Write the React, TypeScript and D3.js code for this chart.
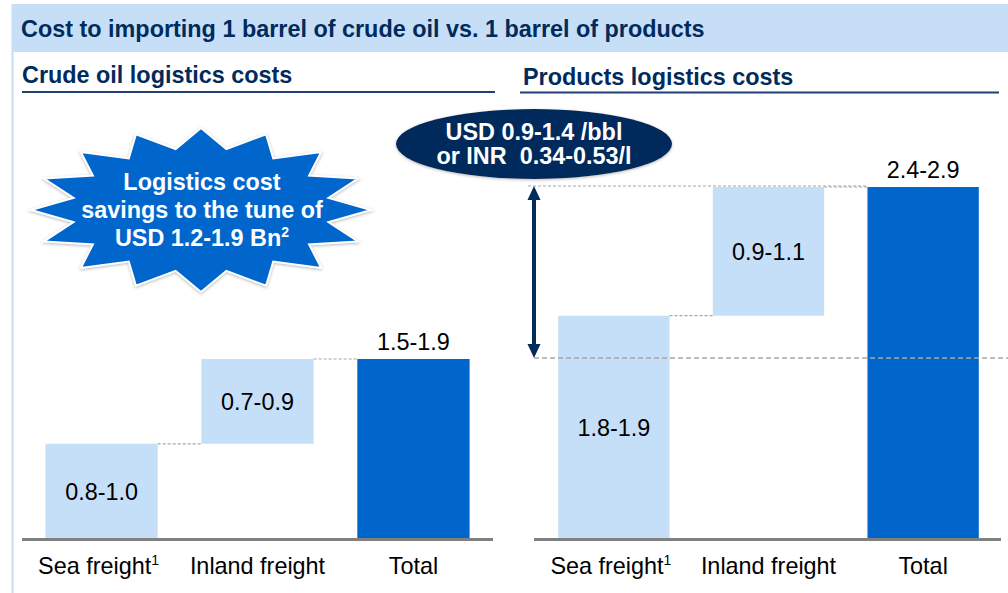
import * as d3 from "d3";

// categories and values (bar heights read as the upper end of each range)
const categories = ["Sea freight", "Inland freight", "Total"];
const categoryNotes = ["1", "", ""];
const crudeSteps = [1.0, 0.9];
const crudeLabels = ["0.8-1.0", "0.7-0.9", "1.5-1.9"];
const productSteps = [1.9, 1.1];
const productLabels = ["1.8-1.9", "0.9-1.1", "2.4-2.9"];
const burstLines = ["Logistics cost", "savings to the tune of", "USD 1.2-1.9 Bn"];
const bubbleLines = ["USD 0.9-1.4 /bbl", "or INR  0.34-0.53/l"];

const W = 1008;
const H = 593;
const AXIS_Y = 538;
const PLOT_TOP = 180;
const FONT = "'Liberation Sans', Arial, Helvetica, sans-serif";
const NAVY = "#002B5C";
const LIGHT = "#C6DFF8";
const DARK = "#0066CC";
const DASH = "#A6A6A6";
const BAND = "#C6DFF7";
const FS = 23.4;

type Bar = { y0: number; y1: number; total: boolean };

function waterfall(steps: number[]): Bar[] {
  let acc = 0;
  const bars: Bar[] = steps.map((v) => {
    const b = { y0: acc, y1: acc + v, total: false };
    acc += v;
    return b;
  });
  bars.push({ y0: 0, y1: acc, total: true });
  return bars;
}

function makePanel(x0: number, x1: number, yMax: number, steps: number[]) {
  const x = d3
    .scaleBand<string>()
    .domain(categories)
    .range([x0, x1])
    .paddingInner(0.28)
    .paddingOuter(0.15);
  const y = d3.scaleLinear().domain([0, yMax]).range([AXIS_Y, PLOT_TOP]);
  return { x, y, bars: waterfall(steps), x0, x1 };
}

function Panel({ p, labels, axisFrom, axisTo }: { p: ReturnType<typeof makePanel>; labels: string[]; axisFrom: number; axisTo: number }) {
  const { x, y, bars } = p;
  const bw = x.bandwidth();
  return (
    <g>
      {/* dashed connectors between steps */}
      {bars.slice(0, -1).map((b, i) => (
        <line
          key={"c" + i}
          x1={(x(categories[i]) ?? 0) + bw}
          x2={x(categories[i + 1]) ?? 0}
          y1={y(b.y1)}
          y2={y(b.y1)}
          stroke={DASH}
          strokeWidth={1.2}
          strokeDasharray="3,2"
        />
      ))}
      {bars.map((b, i) => (
        <rect
          key={"b" + i}
          x={x(categories[i])}
          y={y(b.y1)}
          width={bw}
          height={y(b.y0) - y(b.y1)}
          fill={b.total ? DARK : LIGHT}
        />
      ))}
      {bars.map((b, i) => {
        const cx = (x(categories[i]) ?? 0) + bw / 2;
        const ty = b.total ? y(b.y1) - 9 : (y(b.y0) + y(b.y1)) / 2 + 9;
        return (
          <text key={"v" + i} x={cx} y={ty} textAnchor="middle" fontSize={FS} fill="#000">
            {labels[i]}
          </text>
        );
      })}
      <line x1={axisFrom} x2={axisTo} y1={AXIS_Y + 1.5} y2={AXIS_Y + 1.5} stroke="#808080" strokeWidth={3} />
      {categories.map((c, i) => (
        <text
          key={"k" + i}
          x={(x(c) ?? 0) + bw / 2 - (categoryNotes[i] ? 3 : 0)}
          y={574}
          textAnchor="middle"
          fontSize={FS}
          fill="#000"
        >
          {c}
          {categoryNotes[i] && (
            <tspan fontSize={14} dy={-9}>
              {categoryNotes[i]}
            </tspan>
          )}
        </text>
      ))}
    </g>
  );
}

export default function App() {
  const left = makePanel(22, 493, 3.8, crudeSteps);
  const right = makePanel(535, 1002, 3.06, productSteps);

  const leftTotal = left.bars[left.bars.length - 1];
  const rightTotal = right.bars[right.bars.length - 1];
  const refY = left.y(leftTotal.y1);
  const topY = right.y(rightTotal.y1);
  const arrowX = 534;
  const totalLeftX = right.x(categories[2]) ?? 0;

  // explosion shape
  const bcx = 201;
  const bcy = 210;
  const starPts: [number, number][] = d3.range(32).map((i) => {
    const a = -Math.PI / 2 + (i * Math.PI) / 16;
    const r = i % 2 === 0 ? [170, 82] : [130, 62];
    return [bcx + r[0] * Math.cos(a), bcy + r[1] * Math.sin(a)];
  });
  const starPath = d3.line().curve(d3.curveLinearClosed)(starPts) ?? "";

  return (
    <svg
      width={W}
      height={H}
      viewBox={`0 0 ${W} ${H}`}
      style={{ position: "absolute", left: 0, top: 0, fontFamily: FONT }}
    >
      <defs>
        <filter id="shadow" x="-20%" y="-20%" width="140%" height="140%">
          <feDropShadow dx="0" dy="1" stdDeviation="1.5" floodColor="#888" floodOpacity="0.6" />
        </filter>
      </defs>
      <rect width={W} height={H} fill="#fff" />
      <rect x={12} y={4} width={W - 12} height={48} fill={BAND} />
      <line x1={12.5} x2={12.5} y1={4} y2={H} stroke={BAND} strokeWidth={2} />
      <text x={21} y={37} fontSize={FS} fontWeight="bold" fill={NAVY}>
        Cost to importing 1 barrel of crude oil vs. 1 barrel of products
      </text>

      <text x={22} y={83} fontSize={FS} fontWeight="bold" fill={NAVY}>
        Crude oil logistics costs
      </text>
      <line x1={22} x2={495} y1={92} y2={92} stroke="#1F3F75" strokeWidth={2} />
      <text x={523} y={85} fontSize={FS} fontWeight="bold" fill={NAVY}>
        Products logistics costs
      </text>
      <line x1={520} x2={999} y1={92.5} y2={92.5} stroke="#1F3F75" strokeWidth={2} />

      <Panel p={left} labels={crudeLabels} axisFrom={22} axisTo={493} />

      {/* right panel: long dashed line at the products total level */}
      <line
        x1={arrowX - 6}
        x2={totalLeftX}
        y1={topY - 1}
        y2={topY - 1}
        stroke={DASH}
        strokeWidth={1.2}
        strokeDasharray="3,2"
      />
      <Panel p={right} labels={productLabels} axisFrom={arrowX} axisTo={1001} />
      <line
        x1={arrowX}
        x2={W}
        y1={refY - 1}
        y2={refY - 1}
        stroke={DASH}
        strokeWidth={1.5}
        strokeDasharray="5,3"
      />

      {/* double arrow */}
      <line x1={arrowX} x2={arrowX} y1={topY + 10} y2={refY - 12} stroke={NAVY} strokeWidth={4} />
      <path d={`M${arrowX},${topY - 1} L${arrowX - 6.5},${topY + 13} L${arrowX + 6.5},${topY + 13} Z`} fill={NAVY} />
      <path d={`M${arrowX},${refY - 1} L${arrowX - 6.5},${refY - 15} L${arrowX + 6.5},${refY - 15} Z`} fill={NAVY} />

      {/* ellipse callout */}
      <ellipse cx={534} cy={144} rx={138} ry={35} fill={NAVY} filter="url(#shadow)" />
      {bubbleLines.map((t, i) => (
        <text
          key={t}
          x={534}
          y={140 + i * 24}
          textAnchor="middle"
          fontSize={FS}
          fontWeight="bold"
          fill="#fff"
          style={{ whiteSpace: "pre" }}
        >
          {t}
        </text>
      ))}

      {/* explosion callout */}
      <path d={starPath} fill={DARK} stroke="#fff" strokeWidth={2} filter="url(#shadow)" />
      {burstLines.map((t, i) => (
        <text
          key={t}
          x={bcx + 1}
          y={190 + i * 28}
          textAnchor="middle"
          fontSize={FS}
          fontWeight="bold"
          fill="#fff"
        >
          {t}
          {i === burstLines.length - 1 && (
            <tspan fontSize={14} dy={-9}>
              2
            </tspan>
          )}
        </text>
      ))}
    </svg>
  );
}
